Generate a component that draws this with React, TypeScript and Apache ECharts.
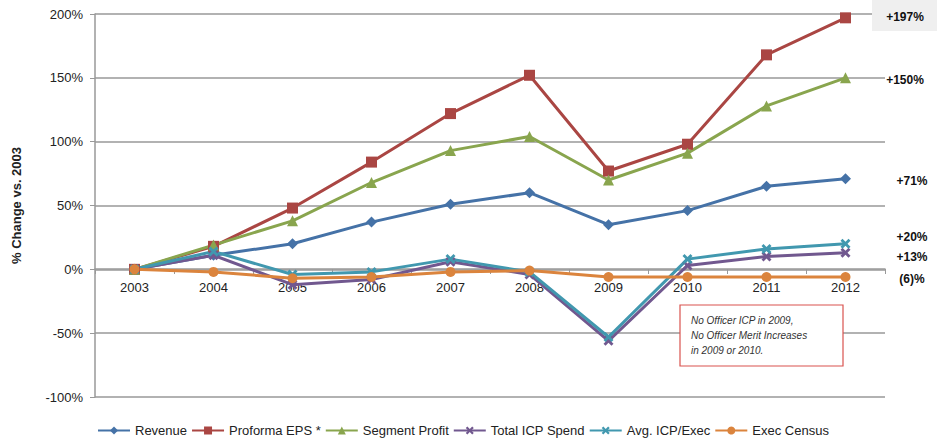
import React, { useEffect, useRef } from "react";
import * as echarts from "echarts";

const years = ["2003", "2004", "2005", "2006", "2007", "2008", "2009", "2010", "2011", "2012"];
const revenue = [0, 11, 20, 37, 51, 60, 35, 46, 65, 71];
const proformaEPS = [0, 18, 48, 84, 122, 152, 77, 98, 168, 197];
const segmentProfit = [0, 19, 38, 68, 93, 104, 70, 91, 128, 150];
const totalICP = [0, 11, -12, -8, 6, -4, -56, 3, 10, 13];
const avgICP = [0, 14, -4, -2, 8, -2, -53, 8, 16, 20];
const execCensus = [0, -2, -7, -6, -2, -1, -6, -6, -6, -6];
const endLabels = ["+197%", "+150%", "+71%", "+20%", "+13%", "(6)%"];
const noteLines = ["No Officer ICP in 2009,", "No Officer Merit Increases", "in 2009 or 2010."];

const crossPath = "path://M2,0L5,3L8,0L10,2L7,5L10,8L8,10L5,7L2,10L0,8L3,5L0,2Z";

export default function App() {
  const ref = useRef<HTMLDivElement>(null);
  useEffect(() => {
    if (!ref.current) return;
    const chart = echarts.init(ref.current, undefined, { renderer: "svg" });
    const font = "'Liberation Sans', Arial, sans-serif";
    const mk = (name: string, data: number[], color: string, symbol: string, size: number) => ({
      name,
      type: "line",
      data,
      symbol,
      symbolSize: size,
      lineStyle: { color, width: 3 },
      itemStyle: { color },
      z: 3,
    });
    const labelY = [17, 80, 181, 237, 257, 279];
    const labelX = [905, 905, 912, 912, 912, 912];
    chart.setOption({
      animation: false,
      backgroundColor: "#ffffff",
      textStyle: { fontFamily: font },
      grid: { left: 95, right: 52, top: 14, bottom: 47, containLabel: false },
      legend: {
        bottom: 2,
        left: 92,
        itemWidth: 32,
        itemHeight: 10,
        itemGap: 4,
        textStyle: { fontSize: 13, color: "#222", fontFamily: font },
      },
      xAxis: {
        type: "category",
        data: years,
        boundaryGap: true,
        position: "bottom",
        offset: -128,
        axisLine: { onZero: false, lineStyle: { color: "#999", width: 1.5 } },
        axisTick: { show: true, length: 5, lineStyle: { color: "#999" } },
        axisLabel: { fontSize: 13, color: "#222", margin: 12, fontFamily: font },
        splitLine: { show: false },
      },
      yAxis: {
        type: "value",
        min: -100,
        max: 200,
        interval: 50,
        name: "% Change vs. 2003",
        nameLocation: "middle",
        nameRotate: 90,
        nameGap: 72,
        nameTextStyle: { fontSize: 13, fontWeight: "bold", color: "#222", fontFamily: font },
        axisLine: { show: true, lineStyle: { color: "#999", width: 1.5 } },
        axisTick: { show: true, length: 5, lineStyle: { color: "#999" } },
        axisLabel: { fontSize: 13, color: "#222", margin: 12, formatter: "{value}%", fontFamily: font },
        splitLine: { lineStyle: { color: "#999", width: 1.5 } },
      },
      series: [
        mk("Revenue", revenue, "#4572A7", "diamond", 11),
        mk("Proforma EPS *", proformaEPS, "#AA4643", "rect", 11),
        mk("Segment Profit", segmentProfit, "#89A54E", "triangle", 11),
        mk("Total ICP Spend", totalICP, "#71588F", crossPath, 10),
        mk("Avg. ICP/Exec", avgICP, "#4198AF", crossPath, 10),
        mk("Exec Census", execCensus, "#DB843D", "circle", 10),
      ],
      graphic: [
        { type: "rect", shape: { x: 872, y: 0, width: 65, height: 31 }, style: { fill: "#efefef" }, z: 10 },
        ...endLabels.map((t, i) => ({
          type: "text",
          x: labelX[i],
          y: labelY[i],
          style: {
            text: t,
            fontSize: 12,
            fontWeight: "bold",
            fill: "#111",
            fontFamily: font,
            align: "center",
            verticalAlign: "middle",
          },
          z: 11,
        })),
        {
          type: "rect",
          shape: { x: 680, y: 305, width: 163, height: 61 },
          style: { fill: "#ffffff", stroke: "#D9534F", lineWidth: 1.2 },
          z: 10,
        },
        ...noteLines.map((t, i) => ({
          type: "text",
          x: 691,
          y: 320 + i * 15,
          style: {
            text: t,
            fontSize: 10,
            fontStyle: "italic",
            fill: "#333",
            fontFamily: font,
            verticalAlign: "middle",
          },
          z: 11,
        })),
      ],
    });
    return () => chart.dispose();
  }, []);
  return <div ref={ref} style={{ width: 937, height: 444, position: "absolute", left: 0, top: 0 }} />;
}
